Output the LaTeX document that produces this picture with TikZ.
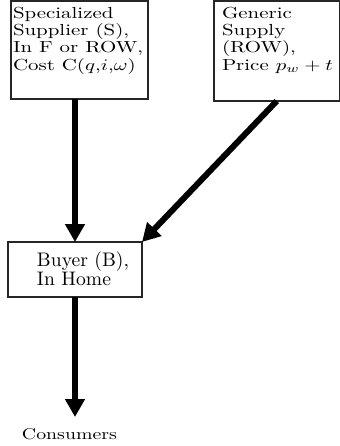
\documentclass[tikz,border=0pt]{standalone}
\usepackage{graphicx}
\usetikzlibrary{arrows.meta}
\begin{document}
\begin{tikzpicture}[x=0.5pt,y=-0.5pt,
  box/.style={draw=black!85, line width=0.6pt, inner sep=0pt, outer sep=0pt, anchor=north west},
  flow/.style={line width=3pt, -{Triangle[length=9pt,width=9.5pt]}},
  txt/.style={anchor=base west, inner sep=0pt, outer sep=0pt}]
\useasboundingbox (0,0) rectangle (340,446);
% boxes
\node[box, minimum width=68.5pt, minimum height=49pt] (S) at (11,1) {};
\node[box, minimum width=62.75pt, minimum height=50pt] (G) at (214,1) {};
\node[box, minimum width=67pt, minimum height=27.5pt] (B) at (8,242) {};
% texts
\node[txt] (St) at (13,18) {\scalebox{1.045}[0.8]{\fontsize{10}{10.9}\selectfont\begin{tabular}[t]{@{}l@{}}Specialized\\ Supplier (S),\\ In F or ROW,\\ Cost C($q$,$i$,$\omega$)\end{tabular}}};
\node[txt] (Gt) at (222,18) {\scalebox{1.045}[0.8]{\fontsize{10}{10.9}\selectfont\begin{tabular}[t]{@{}l@{}}Generic\\ Supply\\ (ROW),\\ Price $p_w+t$\end{tabular}}};
\node[txt] (Bt) at (37,266) {\scalebox{0.98}{\fontsize{10}{9.7}\selectfont\begin{tabular}[t]{@{}l@{}}Buyer (B),\\ In Home\end{tabular}}};
\node[txt] (Ct) at (22,439) {\scalebox{0.99}[0.78]{Consumers}};
\coordinate (ce) at (B.south |- 0,417);
% connectors
\draw[flow] (S.south -| B.north) -- (B.north);
\draw[flow] (G.south) -- (B.north east);
\draw[flow] (B.south) -- (ce);
\end{tikzpicture}
\end{document}
